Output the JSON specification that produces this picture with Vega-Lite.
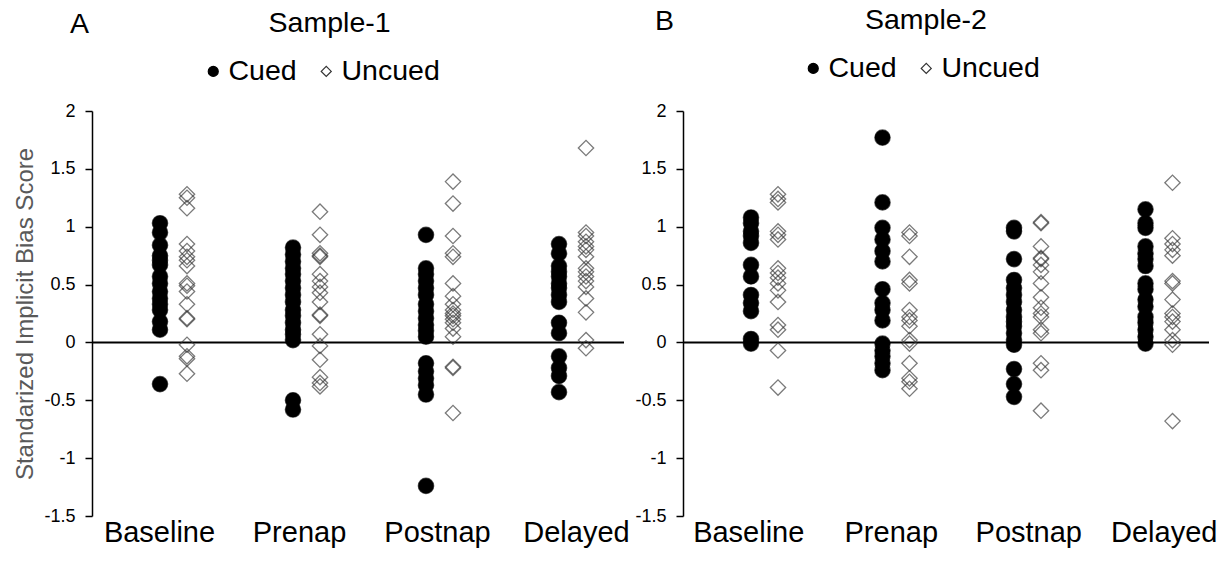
{
"$schema": "https://vega.github.io/schema/vega-lite/v6.json",
"background": "white",
"padding": {"left": 13, "top": 5, "right": 5, "bottom": 5},
"datasets": {"points": [
{"sample":"Sample-1","time":"Baseline","cond":"Cued","score":1.03},{"sample":"Sample-1","time":"Baseline","cond":"Cued","score":0.95},{"sample":"Sample-1","time":"Baseline","cond":"Cued","score":0.84},{"sample":"Sample-1","time":"Baseline","cond":"Cued","score":0.75},{"sample":"Sample-1","time":"Baseline","cond":"Cued","score":0.71},{"sample":"Sample-1","time":"Baseline","cond":"Cued","score":0.67},{"sample":"Sample-1","time":"Baseline","cond":"Cued","score":0.57},{"sample":"Sample-1","time":"Baseline","cond":"Cued","score":0.51},{"sample":"Sample-1","time":"Baseline","cond":"Cued","score":0.44},{"sample":"Sample-1","time":"Baseline","cond":"Cued","score":0.38},{"sample":"Sample-1","time":"Baseline","cond":"Cued","score":0.33},{"sample":"Sample-1","time":"Baseline","cond":"Cued","score":0.28},{"sample":"Sample-1","time":"Baseline","cond":"Cued","score":0.18},{"sample":"Sample-1","time":"Baseline","cond":"Cued","score":0.11},{"sample":"Sample-1","time":"Baseline","cond":"Cued","score":-0.36},
{"sample":"Sample-1","time":"Baseline","cond":"Uncued","score":1.28},{"sample":"Sample-1","time":"Baseline","cond":"Uncued","score":1.25},{"sample":"Sample-1","time":"Baseline","cond":"Uncued","score":1.16},{"sample":"Sample-1","time":"Baseline","cond":"Uncued","score":0.85},{"sample":"Sample-1","time":"Baseline","cond":"Uncued","score":0.79},{"sample":"Sample-1","time":"Baseline","cond":"Uncued","score":0.74},{"sample":"Sample-1","time":"Baseline","cond":"Uncued","score":0.71},{"sample":"Sample-1","time":"Baseline","cond":"Uncued","score":0.66},{"sample":"Sample-1","time":"Baseline","cond":"Uncued","score":0.51},{"sample":"Sample-1","time":"Baseline","cond":"Uncued","score":0.49},{"sample":"Sample-1","time":"Baseline","cond":"Uncued","score":0.44},{"sample":"Sample-1","time":"Baseline","cond":"Uncued","score":0.33},{"sample":"Sample-1","time":"Baseline","cond":"Uncued","score":0.21},{"sample":"Sample-1","time":"Baseline","cond":"Uncued","score":0.2},{"sample":"Sample-1","time":"Baseline","cond":"Uncued","score":-0.02},{"sample":"Sample-1","time":"Baseline","cond":"Uncued","score":-0.12},{"sample":"Sample-1","time":"Baseline","cond":"Uncued","score":-0.14},{"sample":"Sample-1","time":"Baseline","cond":"Uncued","score":-0.27},
{"sample":"Sample-1","time":"Prenap","cond":"Cued","score":0.82},{"sample":"Sample-1","time":"Prenap","cond":"Cued","score":0.76},{"sample":"Sample-1","time":"Prenap","cond":"Cued","score":0.7},{"sample":"Sample-1","time":"Prenap","cond":"Cued","score":0.64},{"sample":"Sample-1","time":"Prenap","cond":"Cued","score":0.59},{"sample":"Sample-1","time":"Prenap","cond":"Cued","score":0.53},{"sample":"Sample-1","time":"Prenap","cond":"Cued","score":0.47},{"sample":"Sample-1","time":"Prenap","cond":"Cued","score":0.41},{"sample":"Sample-1","time":"Prenap","cond":"Cued","score":0.35},{"sample":"Sample-1","time":"Prenap","cond":"Cued","score":0.28},{"sample":"Sample-1","time":"Prenap","cond":"Cued","score":0.23},{"sample":"Sample-1","time":"Prenap","cond":"Cued","score":0.17},{"sample":"Sample-1","time":"Prenap","cond":"Cued","score":0.11},{"sample":"Sample-1","time":"Prenap","cond":"Cued","score":0.07},{"sample":"Sample-1","time":"Prenap","cond":"Cued","score":0.02},{"sample":"Sample-1","time":"Prenap","cond":"Cued","score":-0.5},{"sample":"Sample-1","time":"Prenap","cond":"Cued","score":-0.58},
{"sample":"Sample-1","time":"Prenap","cond":"Uncued","score":1.13},{"sample":"Sample-1","time":"Prenap","cond":"Uncued","score":0.93},{"sample":"Sample-1","time":"Prenap","cond":"Uncued","score":0.77},{"sample":"Sample-1","time":"Prenap","cond":"Uncued","score":0.75},{"sample":"Sample-1","time":"Prenap","cond":"Uncued","score":0.74},{"sample":"Sample-1","time":"Prenap","cond":"Uncued","score":0.59},{"sample":"Sample-1","time":"Prenap","cond":"Uncued","score":0.53},{"sample":"Sample-1","time":"Prenap","cond":"Uncued","score":0.48},{"sample":"Sample-1","time":"Prenap","cond":"Uncued","score":0.43},{"sample":"Sample-1","time":"Prenap","cond":"Uncued","score":0.35},{"sample":"Sample-1","time":"Prenap","cond":"Uncued","score":0.24},{"sample":"Sample-1","time":"Prenap","cond":"Uncued","score":0.23},{"sample":"Sample-1","time":"Prenap","cond":"Uncued","score":0.07},{"sample":"Sample-1","time":"Prenap","cond":"Uncued","score":-0.03},{"sample":"Sample-1","time":"Prenap","cond":"Uncued","score":-0.15},{"sample":"Sample-1","time":"Prenap","cond":"Uncued","score":-0.3},{"sample":"Sample-1","time":"Prenap","cond":"Uncued","score":-0.35},{"sample":"Sample-1","time":"Prenap","cond":"Uncued","score":-0.38},
{"sample":"Sample-1","time":"Postnap","cond":"Cued","score":0.93},{"sample":"Sample-1","time":"Postnap","cond":"Cued","score":0.64},{"sample":"Sample-1","time":"Postnap","cond":"Cued","score":0.59},{"sample":"Sample-1","time":"Postnap","cond":"Cued","score":0.53},{"sample":"Sample-1","time":"Postnap","cond":"Cued","score":0.47},{"sample":"Sample-1","time":"Postnap","cond":"Cued","score":0.41},{"sample":"Sample-1","time":"Postnap","cond":"Cued","score":0.33},{"sample":"Sample-1","time":"Postnap","cond":"Cued","score":0.27},{"sample":"Sample-1","time":"Postnap","cond":"Cued","score":0.21},{"sample":"Sample-1","time":"Postnap","cond":"Cued","score":0.15},{"sample":"Sample-1","time":"Postnap","cond":"Cued","score":0.1},{"sample":"Sample-1","time":"Postnap","cond":"Cued","score":0.05},{"sample":"Sample-1","time":"Postnap","cond":"Cued","score":-0.18},{"sample":"Sample-1","time":"Postnap","cond":"Cued","score":-0.25},{"sample":"Sample-1","time":"Postnap","cond":"Cued","score":-0.31},{"sample":"Sample-1","time":"Postnap","cond":"Cued","score":-0.37},{"sample":"Sample-1","time":"Postnap","cond":"Cued","score":-0.45},{"sample":"Sample-1","time":"Postnap","cond":"Cued","score":-1.24},
{"sample":"Sample-1","time":"Postnap","cond":"Uncued","score":1.39},{"sample":"Sample-1","time":"Postnap","cond":"Uncued","score":1.2},{"sample":"Sample-1","time":"Postnap","cond":"Uncued","score":0.92},{"sample":"Sample-1","time":"Postnap","cond":"Uncued","score":0.77},{"sample":"Sample-1","time":"Postnap","cond":"Uncued","score":0.74},{"sample":"Sample-1","time":"Postnap","cond":"Uncued","score":0.51},{"sample":"Sample-1","time":"Postnap","cond":"Uncued","score":0.4},{"sample":"Sample-1","time":"Postnap","cond":"Uncued","score":0.33},{"sample":"Sample-1","time":"Postnap","cond":"Uncued","score":0.28},{"sample":"Sample-1","time":"Postnap","cond":"Uncued","score":0.25},{"sample":"Sample-1","time":"Postnap","cond":"Uncued","score":0.23},{"sample":"Sample-1","time":"Postnap","cond":"Uncued","score":0.2},{"sample":"Sample-1","time":"Postnap","cond":"Uncued","score":0.17},{"sample":"Sample-1","time":"Postnap","cond":"Uncued","score":0.12},{"sample":"Sample-1","time":"Postnap","cond":"Uncued","score":0.05},{"sample":"Sample-1","time":"Postnap","cond":"Uncued","score":-0.21},{"sample":"Sample-1","time":"Postnap","cond":"Uncued","score":-0.22},{"sample":"Sample-1","time":"Postnap","cond":"Uncued","score":-0.61},
{"sample":"Sample-1","time":"Delayed","cond":"Cued","score":0.85},{"sample":"Sample-1","time":"Delayed","cond":"Cued","score":0.77},{"sample":"Sample-1","time":"Delayed","cond":"Cued","score":0.66},{"sample":"Sample-1","time":"Delayed","cond":"Cued","score":0.61},{"sample":"Sample-1","time":"Delayed","cond":"Cued","score":0.57},{"sample":"Sample-1","time":"Delayed","cond":"Cued","score":0.51},{"sample":"Sample-1","time":"Delayed","cond":"Cued","score":0.47},{"sample":"Sample-1","time":"Delayed","cond":"Cued","score":0.41},{"sample":"Sample-1","time":"Delayed","cond":"Cued","score":0.35},{"sample":"Sample-1","time":"Delayed","cond":"Cued","score":0.17},{"sample":"Sample-1","time":"Delayed","cond":"Cued","score":0.08},{"sample":"Sample-1","time":"Delayed","cond":"Cued","score":-0.12},{"sample":"Sample-1","time":"Delayed","cond":"Cued","score":-0.22},{"sample":"Sample-1","time":"Delayed","cond":"Cued","score":-0.29},{"sample":"Sample-1","time":"Delayed","cond":"Cued","score":-0.43},
{"sample":"Sample-1","time":"Delayed","cond":"Uncued","score":1.68},{"sample":"Sample-1","time":"Delayed","cond":"Uncued","score":0.95},{"sample":"Sample-1","time":"Delayed","cond":"Uncued","score":0.92},{"sample":"Sample-1","time":"Delayed","cond":"Uncued","score":0.87},{"sample":"Sample-1","time":"Delayed","cond":"Uncued","score":0.83},{"sample":"Sample-1","time":"Delayed","cond":"Uncued","score":0.8},{"sample":"Sample-1","time":"Delayed","cond":"Uncued","score":0.74},{"sample":"Sample-1","time":"Delayed","cond":"Uncued","score":0.64},{"sample":"Sample-1","time":"Delayed","cond":"Uncued","score":0.61},{"sample":"Sample-1","time":"Delayed","cond":"Uncued","score":0.57},{"sample":"Sample-1","time":"Delayed","cond":"Uncued","score":0.53},{"sample":"Sample-1","time":"Delayed","cond":"Uncued","score":0.48},{"sample":"Sample-1","time":"Delayed","cond":"Uncued","score":0.38},{"sample":"Sample-1","time":"Delayed","cond":"Uncued","score":0.26},{"sample":"Sample-1","time":"Delayed","cond":"Uncued","score":0.02},{"sample":"Sample-1","time":"Delayed","cond":"Uncued","score":-0.05},
{"sample":"Sample-2","time":"Baseline","cond":"Cued","score":1.08},{"sample":"Sample-2","time":"Baseline","cond":"Cued","score":1.03},{"sample":"Sample-2","time":"Baseline","cond":"Cued","score":0.96},{"sample":"Sample-2","time":"Baseline","cond":"Cued","score":0.92},{"sample":"Sample-2","time":"Baseline","cond":"Cued","score":0.86},{"sample":"Sample-2","time":"Baseline","cond":"Cued","score":0.67},{"sample":"Sample-2","time":"Baseline","cond":"Cued","score":0.57},{"sample":"Sample-2","time":"Baseline","cond":"Cued","score":0.41},{"sample":"Sample-2","time":"Baseline","cond":"Cued","score":0.34},{"sample":"Sample-2","time":"Baseline","cond":"Cued","score":0.27},{"sample":"Sample-2","time":"Baseline","cond":"Cued","score":0.03},{"sample":"Sample-2","time":"Baseline","cond":"Cued","score":-0.01},
{"sample":"Sample-2","time":"Baseline","cond":"Uncued","score":1.28},{"sample":"Sample-2","time":"Baseline","cond":"Uncued","score":1.24},{"sample":"Sample-2","time":"Baseline","cond":"Uncued","score":1.21},{"sample":"Sample-2","time":"Baseline","cond":"Uncued","score":0.96},{"sample":"Sample-2","time":"Baseline","cond":"Uncued","score":0.93},{"sample":"Sample-2","time":"Baseline","cond":"Uncued","score":0.89},{"sample":"Sample-2","time":"Baseline","cond":"Uncued","score":0.64},{"sample":"Sample-2","time":"Baseline","cond":"Uncued","score":0.6},{"sample":"Sample-2","time":"Baseline","cond":"Uncued","score":0.56},{"sample":"Sample-2","time":"Baseline","cond":"Uncued","score":0.51},{"sample":"Sample-2","time":"Baseline","cond":"Uncued","score":0.45},{"sample":"Sample-2","time":"Baseline","cond":"Uncued","score":0.35},{"sample":"Sample-2","time":"Baseline","cond":"Uncued","score":0.15},{"sample":"Sample-2","time":"Baseline","cond":"Uncued","score":0.11},{"sample":"Sample-2","time":"Baseline","cond":"Uncued","score":-0.07},{"sample":"Sample-2","time":"Baseline","cond":"Uncued","score":-0.39},
{"sample":"Sample-2","time":"Prenap","cond":"Cued","score":1.77},{"sample":"Sample-2","time":"Prenap","cond":"Cued","score":1.21},{"sample":"Sample-2","time":"Prenap","cond":"Cued","score":0.99},{"sample":"Sample-2","time":"Prenap","cond":"Cued","score":0.89},{"sample":"Sample-2","time":"Prenap","cond":"Cued","score":0.79},{"sample":"Sample-2","time":"Prenap","cond":"Cued","score":0.7},{"sample":"Sample-2","time":"Prenap","cond":"Cued","score":0.46},{"sample":"Sample-2","time":"Prenap","cond":"Cued","score":0.34},{"sample":"Sample-2","time":"Prenap","cond":"Cued","score":0.28},{"sample":"Sample-2","time":"Prenap","cond":"Cued","score":0.19},{"sample":"Sample-2","time":"Prenap","cond":"Cued","score":-0.01},{"sample":"Sample-2","time":"Prenap","cond":"Cued","score":-0.07},{"sample":"Sample-2","time":"Prenap","cond":"Cued","score":-0.12},{"sample":"Sample-2","time":"Prenap","cond":"Cued","score":-0.18},{"sample":"Sample-2","time":"Prenap","cond":"Cued","score":-0.24},
{"sample":"Sample-2","time":"Prenap","cond":"Uncued","score":0.95},{"sample":"Sample-2","time":"Prenap","cond":"Uncued","score":0.92},{"sample":"Sample-2","time":"Prenap","cond":"Uncued","score":0.74},{"sample":"Sample-2","time":"Prenap","cond":"Uncued","score":0.54},{"sample":"Sample-2","time":"Prenap","cond":"Uncued","score":0.51},{"sample":"Sample-2","time":"Prenap","cond":"Uncued","score":0.28},{"sample":"Sample-2","time":"Prenap","cond":"Uncued","score":0.22},{"sample":"Sample-2","time":"Prenap","cond":"Uncued","score":0.19},{"sample":"Sample-2","time":"Prenap","cond":"Uncued","score":0.14},{"sample":"Sample-2","time":"Prenap","cond":"Uncued","score":0.02},{"sample":"Sample-2","time":"Prenap","cond":"Uncued","score":-0.01},{"sample":"Sample-2","time":"Prenap","cond":"Uncued","score":-0.18},{"sample":"Sample-2","time":"Prenap","cond":"Uncued","score":-0.31},{"sample":"Sample-2","time":"Prenap","cond":"Uncued","score":-0.34},{"sample":"Sample-2","time":"Prenap","cond":"Uncued","score":-0.4},
{"sample":"Sample-2","time":"Postnap","cond":"Cued","score":0.99},{"sample":"Sample-2","time":"Postnap","cond":"Cued","score":0.96},{"sample":"Sample-2","time":"Postnap","cond":"Cued","score":0.72},{"sample":"Sample-2","time":"Postnap","cond":"Cued","score":0.54},{"sample":"Sample-2","time":"Postnap","cond":"Cued","score":0.47},{"sample":"Sample-2","time":"Postnap","cond":"Cued","score":0.41},{"sample":"Sample-2","time":"Postnap","cond":"Cued","score":0.35},{"sample":"Sample-2","time":"Postnap","cond":"Cued","score":0.28},{"sample":"Sample-2","time":"Postnap","cond":"Cued","score":0.22},{"sample":"Sample-2","time":"Postnap","cond":"Cued","score":0.18},{"sample":"Sample-2","time":"Postnap","cond":"Cued","score":0.14},{"sample":"Sample-2","time":"Postnap","cond":"Cued","score":0.08},{"sample":"Sample-2","time":"Postnap","cond":"Cued","score":0.02},{"sample":"Sample-2","time":"Postnap","cond":"Cued","score":-0.02},{"sample":"Sample-2","time":"Postnap","cond":"Cued","score":-0.23},{"sample":"Sample-2","time":"Postnap","cond":"Cued","score":-0.36},{"sample":"Sample-2","time":"Postnap","cond":"Cued","score":-0.47},
{"sample":"Sample-2","time":"Postnap","cond":"Uncued","score":1.04},{"sample":"Sample-2","time":"Postnap","cond":"Uncued","score":1.03},{"sample":"Sample-2","time":"Postnap","cond":"Uncued","score":0.83},{"sample":"Sample-2","time":"Postnap","cond":"Uncued","score":0.73},{"sample":"Sample-2","time":"Postnap","cond":"Uncued","score":0.72},{"sample":"Sample-2","time":"Postnap","cond":"Uncued","score":0.67},{"sample":"Sample-2","time":"Postnap","cond":"Uncued","score":0.61},{"sample":"Sample-2","time":"Postnap","cond":"Uncued","score":0.51},{"sample":"Sample-2","time":"Postnap","cond":"Uncued","score":0.39},{"sample":"Sample-2","time":"Postnap","cond":"Uncued","score":0.3},{"sample":"Sample-2","time":"Postnap","cond":"Uncued","score":0.25},{"sample":"Sample-2","time":"Postnap","cond":"Uncued","score":0.22},{"sample":"Sample-2","time":"Postnap","cond":"Uncued","score":0.11},{"sample":"Sample-2","time":"Postnap","cond":"Uncued","score":0.08},{"sample":"Sample-2","time":"Postnap","cond":"Uncued","score":-0.18},{"sample":"Sample-2","time":"Postnap","cond":"Uncued","score":-0.24},{"sample":"Sample-2","time":"Postnap","cond":"Uncued","score":-0.59},
{"sample":"Sample-2","time":"Delayed","cond":"Cued","score":1.15},{"sample":"Sample-2","time":"Delayed","cond":"Cued","score":1.03},{"sample":"Sample-2","time":"Delayed","cond":"Cued","score":0.99},{"sample":"Sample-2","time":"Delayed","cond":"Cued","score":0.83},{"sample":"Sample-2","time":"Delayed","cond":"Cued","score":0.77},{"sample":"Sample-2","time":"Delayed","cond":"Cued","score":0.72},{"sample":"Sample-2","time":"Delayed","cond":"Cued","score":0.66},{"sample":"Sample-2","time":"Delayed","cond":"Cued","score":0.51},{"sample":"Sample-2","time":"Delayed","cond":"Cued","score":0.46},{"sample":"Sample-2","time":"Delayed","cond":"Cued","score":0.37},{"sample":"Sample-2","time":"Delayed","cond":"Cued","score":0.31},{"sample":"Sample-2","time":"Delayed","cond":"Cued","score":0.22},{"sample":"Sample-2","time":"Delayed","cond":"Cued","score":0.17},{"sample":"Sample-2","time":"Delayed","cond":"Cued","score":0.11},{"sample":"Sample-2","time":"Delayed","cond":"Cued","score":0.05},{"sample":"Sample-2","time":"Delayed","cond":"Cued","score":-0.01},
{"sample":"Sample-2","time":"Delayed","cond":"Uncued","score":1.38},{"sample":"Sample-2","time":"Delayed","cond":"Uncued","score":0.9},{"sample":"Sample-2","time":"Delayed","cond":"Uncued","score":0.85},{"sample":"Sample-2","time":"Delayed","cond":"Uncued","score":0.8},{"sample":"Sample-2","time":"Delayed","cond":"Uncued","score":0.75},{"sample":"Sample-2","time":"Delayed","cond":"Uncued","score":0.53},{"sample":"Sample-2","time":"Delayed","cond":"Uncued","score":0.51},{"sample":"Sample-2","time":"Delayed","cond":"Uncued","score":0.37},{"sample":"Sample-2","time":"Delayed","cond":"Uncued","score":0.25},{"sample":"Sample-2","time":"Delayed","cond":"Uncued","score":0.22},{"sample":"Sample-2","time":"Delayed","cond":"Uncued","score":0.18},{"sample":"Sample-2","time":"Delayed","cond":"Uncued","score":0.11},{"sample":"Sample-2","time":"Delayed","cond":"Uncued","score":0.02},{"sample":"Sample-2","time":"Delayed","cond":"Uncued","score":-0.02},{"sample":"Sample-2","time":"Delayed","cond":"Uncued","score":-0.68}
]},
"config": {
  "view": {"stroke": null},
  "font": "Liberation Sans",
  "title": {"font": "Liberation Sans", "fontWeight": "normal", "fontSize": 28.5, "color": "black"},
  "axis": {"labelFont": "Liberation Sans", "titleFont": "Liberation Sans", "labelColor": "black", "grid": false}
},
"spacing": 4,
"resolve": {"scale": {"shape": "independent", "fill": "independent", "stroke": "independent"}, "legend": {"shape": "independent", "fill": "independent", "stroke": "independent"}},
"hconcat": [
 {
  "title": {"text": "A", "anchor": "start", "frame": "bounds", "offset": -30, "dx": 56},
  "resolve": {"scale": {"shape": "independent", "fill": "independent", "stroke": "independent"}, "legend": {"shape": "independent", "fill": "independent", "stroke": "independent"}},
  "vconcat": [
   {
    "width": 532, "height": 405,
    "title": {"text": "Sample-1", "anchor": "middle", "frame": "bounds", "offset": 20, "dx": 8},
    "layer": [
     {"data": {"values": [{}]}, "mark": {"type": "rule", "color": "black", "strokeWidth": 2}, "encoding": {"y": {"datum": 0, "type": "quantitative"}}},
     {
      "data": {"name": "points"},
      "transform": [{"filter": "datum.sample === 'Sample-1'"}],
      "mark": {"type": "point", "size": 235, "strokeWidth": 1.3, "strokeOpacity": 0.65, "opacity": 1, "fillOpacity": 1},
      "encoding": {
       "x": {"field": "time", "type": "nominal", "sort": ["Baseline", "Prenap", "Postnap", "Delayed"],
             "scale": {"paddingInner": 0, "paddingOuter": 0},
             "axis": {"title": null, "domain": false, "ticks": false, "labelAngle": 0, "labelFontSize": 29, "labelPadding": 2,
                      "labelOffset": {"condition": [{"test": "datum.value === 'Prenap'", "value": 8}, {"test": "datum.value === 'Postnap'", "value": 13}, {"test": "datum.value === 'Delayed'", "value": 19}], "value": 1}}},
       "xOffset": {"field": "cond", "type": "nominal", "scale": {"range": [68, 95], "paddingInner": 0, "paddingOuter": 0}},
       "y": {"field": "score", "type": "quantitative", "scale": {"domain": [-1.5, 2], "nice": false, "zero": false},
             "axis": {"title": "Standarized Implicit Bias Score", "titleFontSize": 24, "titleColor": "#595959", "titleFontWeight": "normal", "titlePadding": 6,
                      "values": [-1.5, -1, -0.5, 0, 0.5, 1, 1.5, 2], "labelExpr": "'' + datum.value", "labelFontSize": 18, "labelPadding": 10,
                      "tickSize": 7, "tickColor": "black", "tickWidth": 1.5, "domainColor": "black", "domainWidth": 1.5}},
       "shape": {"field": "cond", "type": "nominal", "scale": {"domain": ["Cued", "Uncued"], "range": ["circle", "diamond"]},
                 "legend": {"orient": "none", "legendX": 107, "legendY": -54, "direction": "horizontal", "title": null, "labelFontSize": 28.5, "labelFont": "Liberation Sans", "labelColor": "black", "symbolSize": 100, "labelOffset": 1, "columnPadding": 15, "padding": 0, "symbolStrokeWidth": 1.2}},
       "fill": {"field": "cond", "type": "nominal", "scale": {"domain": ["Cued", "Uncued"], "range": ["#000000", "transparent"]}},
       "stroke": {"field": "cond", "type": "nominal", "scale": {"domain": ["Cued", "Uncued"], "range": ["#000000", "#333333"]}}
      }
     }
    ]
   }
  ]
 },
 {
  "title": {"text": "B", "anchor": "start", "frame": "bounds", "offset": -30, "dx": 20},
  "resolve": {"scale": {"shape": "independent", "fill": "independent", "stroke": "independent"}, "legend": {"shape": "independent", "fill": "independent", "stroke": "independent"}},
  "vconcat": [
   {
    "width": 526, "height": 405,
    "title": {"text": "Sample-2", "anchor": "middle", "frame": "bounds", "offset": 20},
    "layer": [
     {"data": {"values": [{}]}, "mark": {"type": "rule", "color": "black", "strokeWidth": 2}, "encoding": {"y": {"datum": 0, "type": "quantitative"}}},
     {
      "data": {"name": "points"},
      "transform": [{"filter": "datum.sample === 'Sample-2'"}],
      "mark": {"type": "point", "size": 235, "strokeWidth": 1.3, "strokeOpacity": 0.65, "opacity": 1, "fillOpacity": 1},
      "encoding": {
       "x": {"field": "time", "type": "nominal", "sort": ["Baseline", "Prenap", "Postnap", "Delayed"],
             "scale": {"paddingInner": 0, "paddingOuter": 0},
             "axis": {"title": null, "domain": false, "ticks": false, "labelAngle": 0, "labelFontSize": 29, "labelPadding": 2,
                      "labelOffset": {"condition": [{"test": "datum.value === 'Prenap'", "value": 11}, {"test": "datum.value === 'Postnap'", "value": 17}, {"test": "datum.value === 'Delayed'", "value": 21}], "value": 0}}},
       "xOffset": {"field": "cond", "type": "nominal", "scale": {"range": [68, 95], "paddingInner": 0, "paddingOuter": 0}},
       "y": {"field": "score", "type": "quantitative", "scale": {"domain": [-1.5, 2], "nice": false, "zero": false},
             "axis": {"title": null,
                      "values": [-1.5, -1, -0.5, 0, 0.5, 1, 1.5, 2], "labelExpr": "'' + datum.value", "labelFontSize": 18, "labelPadding": 10,
                      "tickSize": 7, "tickColor": "black", "tickWidth": 1.5, "domainColor": "black", "domainWidth": 1.5}},
       "shape": {"field": "cond", "type": "nominal", "scale": {"domain": ["Cued", "Uncued"], "range": ["circle", "diamond"]},
                 "legend": {"orient": "none", "legendX": 116, "legendY": -57, "direction": "horizontal", "title": null, "labelFontSize": 28.5, "labelFont": "Liberation Sans", "labelColor": "black", "symbolSize": 100, "labelOffset": 1, "columnPadding": 15, "padding": 0, "symbolStrokeWidth": 1.2}},
       "fill": {"field": "cond", "type": "nominal", "scale": {"domain": ["Cued", "Uncued"], "range": ["#000000", "transparent"]}},
       "stroke": {"field": "cond", "type": "nominal", "scale": {"domain": ["Cued", "Uncued"], "range": ["#000000", "#333333"]}}
      }
     }
    ]
   }
  ]
 }
]
}
